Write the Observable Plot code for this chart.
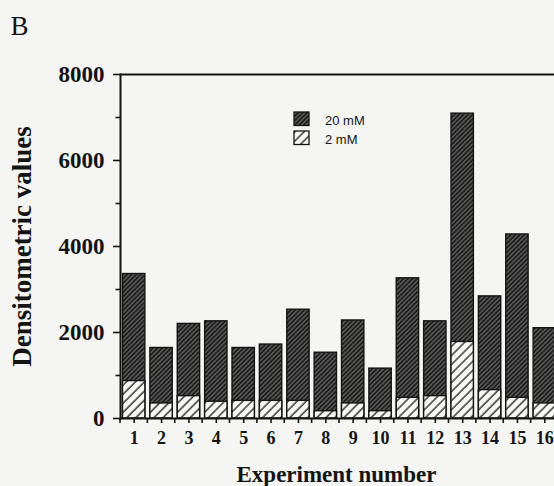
<!DOCTYPE html>
<html><head><meta charset="utf-8">
<script src="https://cdn.jsdelivr.net/npm/d3@7"></script>
<script src="https://cdn.jsdelivr.net/npm/@observablehq/plot@0.6"></script>
<style>
html,body{margin:0;padding:0;background:#f5f5f3;overflow:hidden;width:554px;height:486px;}
#chart{position:relative;}
</style></head><body><div id="chart"></div>
<script>
const experiments = ["1","2","3","4","5","6","7","8","9","10","11","12","13","14","15","16"];
const values20mM = [3360, 1640, 2200, 2260, 1640, 1720, 2530, 1530, 2280, 1160, 3260, 2260, 7090, 2840, 4280, 2100];
const values2mM = [870, 350, 520, 390, 410, 410, 410, 170, 350, 170, 480, 520, 1780, 660, 480, 350];
const yTicks = [0, 2000, 4000, 6000, 8000];
const yMinorTicks = [1000, 3000, 5000, 7000];
const seriesLabels = ["20 mM", "2 mM"];
const panelLabel = "B";
const yLabel = "Densitometric values";
const xLabel = "Experiment number";

const data = experiments.map((e, i) => ({experiment: e, high: values20mM[i], low: values2mM[i]}));
const serif = "'Liberation Serif', 'Times New Roman', serif";
const ink = "#141414";

const plot = Plot.plot({
  width: 560, height: 486,
  marginLeft: 120, marginRight: 2, marginTop: 74, marginBottom: 68,
  style: {background: "transparent", color: ink, fontFamily: serif, overflow: "visible", maxWidth: "none"},
  x: {type: "band", domain: experiments, paddingInner: 0.183, paddingOuter: 0.0915, align: 0.5, round: false},
  y: {domain: [0, 8000]},
  marks: [
    Plot.barY(data, {x: "experiment", y: "high", fill: "url(#hatch20)", stroke: ink, strokeWidth: 1.4}),
    Plot.barY(data, {x: "experiment", y: "low", fill: "url(#hatch2)", stroke: ink, strokeWidth: 1.4}),
    Plot.axisY({ticks: yTicks, tickSize: 7, tickPadding: 9, tickFormat: d3.format("d"), fontSize: 23, fontWeight: "bold", label: null, strokeWidth: 1.6}),
    Plot.axisY({ticks: yMinorTicks, tickSize: 4.5, tickFormat: () => "", label: null, strokeWidth: 1.6}),
    Plot.axisX({tickSize: 5, tickPadding: 8, fontSize: 18, fontWeight: "bold", label: null, strokeWidth: 1.6}),
    Plot.ruleY([0], {stroke: ink, strokeWidth: 2}),
    Plot.ruleY([8000], {stroke: ink, strokeWidth: 1.8}),
    Plot.frame({anchor: "left", stroke: ink, strokeWidth: 2}),
    Plot.text([yLabel], {frameAnchor: "left", textAnchor: "middle", lineAnchor: "middle", dx: -98.5, rotate: -90, fontSize: 27, fontWeight: "bold", fill: ink}),
    Plot.text([xLabel], {frameAnchor: "bottom", textAnchor: "middle", lineAnchor: "bottom", dx: -3, dy: 63, fontSize: 23, fontWeight: "bold", fill: ink}),
    Plot.text([panelLabel], {frameAnchor: "top-left", textAnchor: "start", lineAnchor: "top", dx: -110, dy: -59, fontSize: 27, fill: ink})
  ]
});

const svg = d3.select(plot);
const defs = svg.insert("defs", ":first-child");
const p20 = defs.append("pattern").attr("id", "hatch20").attr("patternUnits", "userSpaceOnUse")
  .attr("width", 3.2).attr("height", 3.2).attr("patternTransform", "rotate(45)");
p20.append("rect").attr("width", 3.2).attr("height", 3.2).attr("fill", "#1e1e1e");
p20.append("line").attr("x1", 0.8).attr("y1", 0).attr("x2", 0.8).attr("y2", 3.2).attr("stroke", "#808080").attr("stroke-width", 0.9);
const p2 = defs.append("pattern").attr("id", "hatch2").attr("patternUnits", "userSpaceOnUse")
  .attr("width", 6.4).attr("height", 6.4).attr("patternTransform", "rotate(45)");
p2.append("rect").attr("width", 6.4).attr("height", 6.4).attr("fill", "#f7f7f5");
p2.append("line").attr("x1", 1).attr("y1", 0).attr("x2", 1).attr("y2", 6.4).attr("stroke", ink).attr("stroke-width", 1.25);

// minor ticks at band boundaries on the x axis, from Plot's band scale
const xs = plot.scale("x");
const ys = plot.scale("y");
const bw = xs.bandwidth, step = xs.step;
const gap = (step - bw) / 2;
const y0 = ys.apply(0);
const bounds = experiments.map(e => xs.apply(e) - gap).concat([xs.apply(experiments[experiments.length - 1]) + bw + gap]);
const gb = svg.append("g").attr("stroke", ink).attr("stroke-width", 1.6);
bounds.forEach(b => gb.append("line").attr("x1", b).attr("x2", b).attr("y1", y0).attr("y2", y0 + 5));

// legend
const lg = svg.append("g").attr("font-family", "'Liberation Sans', Arial, sans-serif").attr("font-size", 13).attr("fill", ink).attr("text-anchor", "start");
[["url(#hatch20)", 112], ["url(#hatch2)", 131]].forEach(([f, y], i) => {
  lg.append("rect").attr("x", 294).attr("y", y).attr("width", 15).attr("height", 13.5).attr("fill", f).attr("stroke", ink).attr("stroke-width", 1.3);
  lg.append("text").attr("x", 325).attr("y", y + 13).text(seriesLabels[i]);
});

document.getElementById("chart").appendChild(plot);
</script>
</body></html>
